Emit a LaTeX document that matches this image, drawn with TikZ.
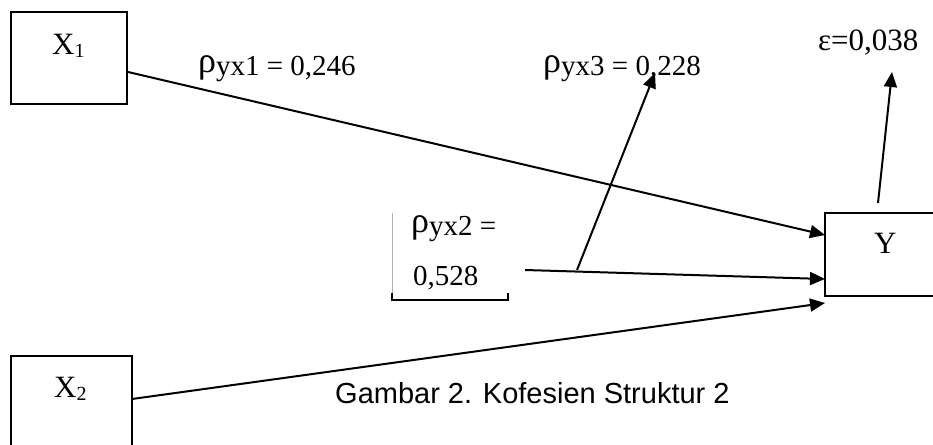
\documentclass[tikz,border=0pt]{standalone}
\usepackage{fontspec}
\setmainfont{Liberation Serif}
\newfontfamily\arialfont{Liberation Sans}
\usetikzlibrary{arrows.meta}
\newcommand{\mysub}[1]{\raisebox{-3pt}{\fontsize{20}{20}\selectfont #1}}
\newcommand{\bigrho}{\raisebox{3pt}{\fontsize{36}{36}\selectfont ρ}}
\begin{document}
\begin{tikzpicture}[x=1pt,y=-1pt,
  box/.style={draw,line width=1.5pt},
  conn/.style={line width=2pt,-{Triangle[length=15pt,width=13pt]}},
  lab/.style={inner sep=0pt,anchor=base west,font=\fontsize{29}{29}\selectfont},
  boxlab/.style={inner sep=0pt,anchor=base west,font=\fontsize{31}{31}\selectfont}]
\useasboundingbox (0,0) rectangle (933,444);
\begin{scope}
\clip (0,0) rectangle (933,444);
% boxes
\draw[box] (11,12) rectangle (127,104);
\coordinate (x1e) at (128,72);
\draw[box] (11,356) rectangle (132,460);
\coordinate (x2e) at (132,399);
\draw[box] (825,213) rectangle (950,296);
\end{scope}
\node[boxlab] (x1l) at (52,55) {X\mysub{1}};
\node[boxlab] (x2l) at (54,397) {X\mysub{2}};
\node[boxlab] (yl) at (874,253) {Y};
% target points on Y
\coordinate (y1) at (825,235);
\coordinate (y2) at (825,279);
\coordinate (y3) at (825,303);
\coordinate (m0) at (525,270);
\coordinate (mj) at (577,270);
\coordinate (m3) at (655,73);
\coordinate (e0) at (878,203);
\coordinate (e1) at (892,72);
% connectors
\draw[conn] (x1e) -- (y1);
\draw[conn] (m0) -- (y2);
\draw[conn] (x2e) -- (y3);
\draw[conn] (mj) -- (m3);
\draw[conn] (e0) -- (e1);
% labels
\node[lab] (r1) at (198,75) {\bigrho yx1 = 0,246};
\node[lab] (r3) at (543,75) {\bigrho yx3 = 0,228};
\node[lab] (r2a) at (411,235) {\bigrho yx2 =};
\node[lab] (r2b) at (413,285) {0,528};
\node[lab,font=\fontsize{31}{31}\selectfont] (eps) at (818,51) {ε=0,038};
% bracket around rho yx2
\draw[gray!60,line width=0.8pt] (392,213) -- (392,300);
\draw[line width=1.8pt] (392,293) -- (392,300) -- (508,300) -- (508,293);
% caption
\node[inner sep=0pt,anchor=base west,font=\arialfont\fontsize{29}{29}\selectfont] (cap) at (335,403) {Gambar 2. Kofesien Struktur 2};
\end{tikzpicture}
\end{document}
